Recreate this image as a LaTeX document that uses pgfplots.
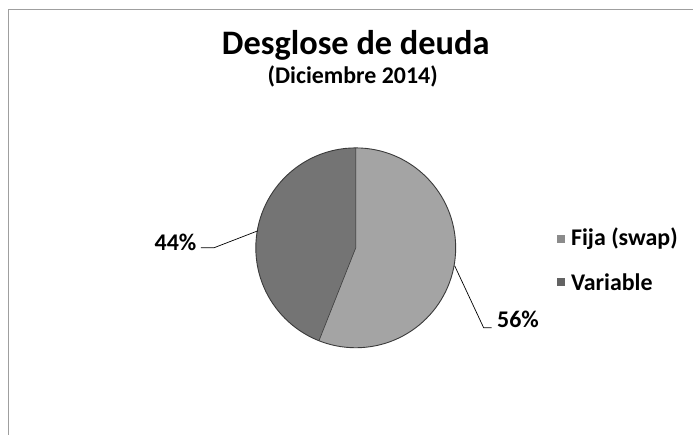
\documentclass[border=0pt]{standalone}
\usepackage{pgfplots}
\usepackage{pgfplotstable}
\pgfplotsset{compat=1.18}
\usepackage{fontspec}
\setmainfont{Carlito}
\definecolor{fijacol}{HTML}{A4A4A4}
\definecolor{varcol}{HTML}{747474}
\definecolor{edgecol}{HTML}{3A3A3A}
\pgfplotstableread{
label value
Fija 56
Variable 44
}\piedata
\begin{document}
\begin{tikzpicture}
\pgfplotstablegetelem{0}{value}\of\piedata \pgfmathsetmacro{\vf}{\pgfplotsretval}
\pgfplotstablegetelem{1}{value}\of\piedata \pgfmathsetmacro{\vv}{\pgfplotsretval}
\pgfmathsetmacro{\af}{90-3.6*\vf}
\pgfmathsetmacro{\av}{90+3.6*\vv}
\begin{axis}[width=693bp,height=435bp,scale only axis,
  xmin=0,xmax=693,ymin=0,ymax=435,y dir=reverse,
  hide axis,clip=false]
\path (axis cs:0,0) rectangle (axis cs:693,435);
% frame
\draw[gray!75,line width=1bp] (axis cs:9,435) -- (axis cs:9,10) -- (axis cs:693,10);
% pie
\fill[fijacol] (axis cs:356,248) -- ++(90:100bp) arc[start angle=90,end angle=\af,radius=100bp] -- cycle;
\fill[varcol] (axis cs:356,248) -- ++(90:100bp) arc[start angle=90,end angle=\av,radius=100bp] -- cycle;
\draw[edgecol,line width=0.6bp] (axis cs:356,248) ++(90:100bp) -- (axis cs:356,248) -- ++(\af:100bp);
\draw[edgecol,line width=0.9bp] (axis cs:356,248) circle[radius=100bp];
% titles
\node[font=\fontsize{34.5}{37}\selectfont\bfseries] at (axis cs:356,45) {Desglose de deuda};
\node[font=\fontsize{24}{26}\selectfont\bfseries] at (axis cs:353,76) {(Diciembre 2014)};
% data labels
\draw[black,line width=0.7bp] (axis cs:258,231) -- (axis cs:214,248) -- (axis cs:201,248);
\node[anchor=east,font=\fontsize{24}{26}\selectfont\bfseries] at (axis cs:200,243) {44\%};
\draw[black,line width=0.7bp] (axis cs:455,266) -- (axis cs:484,328) -- (axis cs:492,328);
\node[anchor=west,font=\fontsize{24}{26}\selectfont\bfseries] at (axis cs:494,320) {56\%};
% legend
\fill[fijacol!85!black] (axis cs:557,235) rectangle (axis cs:565,243);
\node[anchor=west,font=\fontsize{24}{26}\selectfont\bfseries] at (axis cs:568,239) {Fija (swap)};
\fill[varcol!85!black] (axis cs:557,278) rectangle (axis cs:565,286);
\node[anchor=west,font=\fontsize{24}{26}\selectfont\bfseries] at (axis cs:568,282) {Variable};
\end{axis}
\end{tikzpicture}
\end{document}
